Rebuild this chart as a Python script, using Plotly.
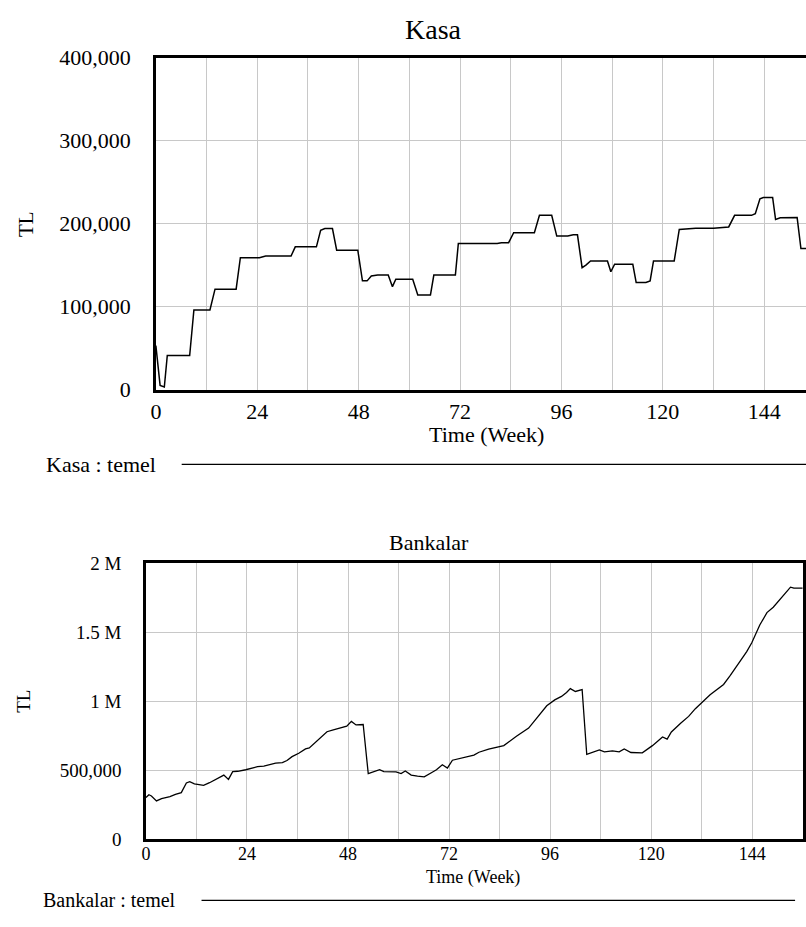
import plotly.graph_objects as go

# ---------------- data ----------------
kasa_weeks = [0, 1, 2, 2.7, 8, 9, 12.8, 14, 19, 20, 24.5, 26, 32, 33, 38, 39, 40, 41.8,
              42.8, 47.8, 48.9, 50, 51, 52.5, 55, 56, 56.8, 60.8, 62, 65, 65.8, 70.9,
              71.6, 80.8, 81.8, 83.5, 84.7, 89.6, 90.8, 93.7, 94.9, 97.5, 98.8, 99.8,
              100.9, 101.8, 102.9, 106.9, 107.7, 108.6, 112.9, 113.7, 116, 117, 117.8,
              122.7, 123.9, 127.8, 132, 135.6, 137, 141, 141.9, 143, 143.8, 146, 146.7,
              147.8, 151.8, 152.7, 154]
kasa_values = [53000, 5000, 3000, 41000, 41000, 96000, 96000, 121000, 121000, 159000,
               159000, 161000, 161000, 172000, 172000, 192000, 194000, 194000, 168000,
               168000, 131000, 131000, 137000, 138000, 138000, 124000, 133000, 133000,
               114000, 114000, 138000, 138000, 176000, 176000, 177000, 177000, 189000,
               189000, 210000, 210000, 185000, 185000, 186500, 186500, 147000, 150000,
               155000, 155000, 142000, 151000, 151000, 129000, 129000, 131000, 155000,
               155000, 193000, 194500, 194500, 196000, 210000, 210000, 212000, 230000,
               231500, 231500, 205000, 207000, 207500, 170000, 170000]

bank_weeks = [0, 0.7, 1.3, 2.5, 3.7, 5.7, 7, 8.4, 9.6, 10.4, 11.5, 12.7, 13.7, 15.1, 16.7,
              18.5, 19.6, 20.6, 21.8, 23.7, 26.5, 28, 30.8, 32.4, 33.5, 34.7, 36.3, 37.9,
              38.8, 40.2, 41, 43, 44.5, 47.7, 48.8, 49.9, 51.6, 52.8, 55.5, 56.5, 59.4,
              60.6, 61.6, 63, 64.5, 66.1, 68.1, 69, 70.4, 71.6, 72.8, 75.1, 77.9, 79.1,
              81.4, 85, 86.9, 88, 90.9, 92.8, 95.2, 97.1, 98.7, 99.9, 100.8, 102, 103.6,
              104.7, 107.7, 108.9, 110.8, 112.4, 113.6, 115.2, 117.9, 120.3, 122.7, 123.8,
              124.8, 127, 128.9, 130.5, 134, 137.2, 138.8, 142.7, 143.9, 145.8, 147.5,
              149, 153.1, 153.9, 156]
bank_values = [301000, 322000, 313000, 277000, 294000, 308000, 325000, 337000, 407000,
               416000, 400000, 397000, 390000, 409000, 433000, 464000, 433000, 489000,
               492000, 503000, 525000, 530000, 551000, 555000, 570000, 598000, 623000,
               654000, 661000, 701000, 727000, 779000, 793000, 819000, 854000, 828000,
               831000, 475000, 503000, 489000, 487000, 475000, 494000, 464000, 457000,
               452000, 487000, 503000, 539000, 515000, 572000, 588000, 609000, 630000,
               652000, 678000, 725000, 746000, 805000, 878000, 967000, 1010000, 1035000,
               1064000, 1092000, 1071000, 1085000, 614000, 647000, 633000, 640000, 633000,
               654000, 628000, 626000, 678000, 741000, 725000, 777000, 840000, 890000,
               946000, 1047000, 1122000, 1188000, 1360000, 1424000, 1553000, 1643000,
               1682000, 1828000, 1821000, 1821000]

x_tick_vals = [0, 24, 48, 72, 96, 120, 144]
x_tick_text = ["0", "24", "48", "72", "96", "120", "144"]
kasa_y_ticks = [0, 100000, 200000, 300000, 400000]
kasa_y_text = ["0", "100,000", "200,000", "300,000", "400,000"]
bank_y_ticks = [0, 500000, 1000000, 1500000, 2000000]
bank_y_text = ["0", "500,000", "1 M", "1.5 M", "2 M"]

# ---------------- figure ----------------
W, H = 806, 927
FONT = "Liberation Serif, Times New Roman, serif"
GRID = "#c8c8c8"


def px(x):
    return x / W


def py(y):
    return 1 - y / H


fig = go.Figure()
fig.add_trace(go.Scatter(x=kasa_weeks, y=kasa_values, mode="lines",
                         line=dict(color="black", width=1.5), xaxis="x", yaxis="y",
                         showlegend=False))
fig.add_trace(go.Scatter(x=bank_weeks, y=bank_values, mode="lines",
                         line=dict(color="black", width=1.3), xaxis="x2", yaxis="y2",
                         showlegend=False))

common_axis = dict(showline=True, linecolor="black", linewidth=2.5, zeroline=False,
                   ticks="", gridcolor=GRID, gridwidth=1, fixedrange=True)

fig.update_layout(
    width=W, height=H,
    margin=dict(l=0, r=0, t=0, b=0),
    paper_bgcolor="white", plot_bgcolor="white",
    font=dict(family=FONT, color="black"),
    xaxis=dict(domain=[px(151), 1.0], range=[0, 153.9], anchor="y",
               tickvals=x_tick_vals, ticktext=x_tick_text, mirror=True,
               tickfont=dict(size=22, family=FONT), ticklabelstandoff=0,
               minor=dict(dtick=12, tick0=0, showgrid=True, gridcolor=GRID, gridwidth=1),
               **common_axis),
    yaxis=dict(domain=[py(388), py(47)], range=[0, 400000], anchor="x",
               tickvals=kasa_y_ticks, ticktext=kasa_y_text, mirror=False,
               tickfont=dict(size=22, family=FONT), ticklabelstandoff=18,
               **common_axis),
    xaxis2=dict(domain=[px(141), px(802.7)], range=[0, 156], anchor="y2",
                tickvals=x_tick_vals, ticktext=x_tick_text, mirror=True,
                tickfont=dict(size=18, family=FONT), ticklabelstandoff=-3,
                minor=dict(dtick=12, tick0=0, showgrid=True, gridcolor=GRID, gridwidth=1),
                **common_axis),
    yaxis2=dict(domain=[py(850), py(566.7)], range=[0, 2000000], anchor="x2",
                tickvals=bank_y_ticks, ticktext=bank_y_text, mirror=True,
                tickfont=dict(size=19, family=FONT), ticklabelstandoff=18,
                **common_axis),
)

annotations = [
    dict(text="Kasa", x=px(431), y=py(18), font=dict(size=28)),
    dict(text="Time (Week)", x=px(484), y=py(434), font=dict(size=22)),
    dict(text="TL", x=px(20), y=py(218), font=dict(size=21), textangle=-90),
    dict(text="Kasa : temel", x=px(38), y=py(465), font=dict(size=22), xanchor="left"),
    dict(text="Bankalar", x=px(426), y=py(545), font=dict(size=22)),
    dict(text="Time (Week)", x=px(470), y=py(889), font=dict(size=18)),
    dict(text="TL", x=px(18), y=py(708), font=dict(size=19), textangle=-90),
    dict(text="Bankalar : temel", x=px(35), y=py(913), font=dict(size=20), xanchor="left"),
]
for a in annotations:
    a.setdefault("xanchor", "center")
    fig.add_annotation(xref="paper", yref="paper", yanchor="middle", showarrow=False,
                       **a)

fig.add_shape(type="line", xref="paper", yref="paper", x0=px(177), x1=1.0,
              y0=py(465), y1=py(465), line=dict(color="black", width=1.3))
fig.add_shape(type="line", xref="paper", yref="paper", x0=px(197), x1=px(795),
              y0=py(913), y1=py(913), line=dict(color="black", width=1.3))

fig.write_html(
    "out.html",
    config=dict(displayModeBar=False),
    post_script="document.body.style.margin='0';document.body.style.overflow='hidden';",
)
